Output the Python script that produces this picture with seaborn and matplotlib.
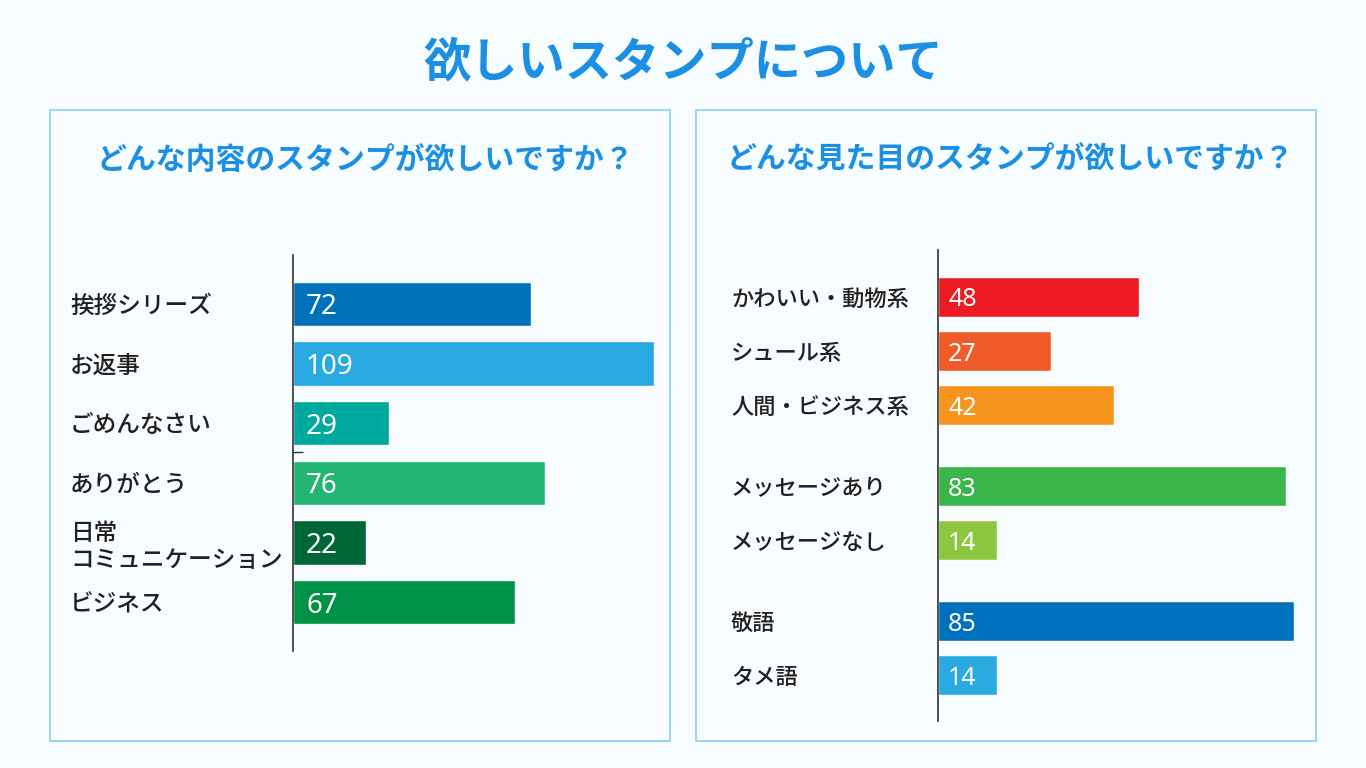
import pandas as pd
import matplotlib
matplotlib.use('Agg')
import matplotlib.pyplot as plt
from matplotlib.patches import Rectangle
import seaborn as sns

# どんな内容のスタンプが欲しいですか？
content_labels = ['挨拶シリーズ', 'お返事', 'ごめんなさい', 'ありがとう', '日常\nコミュニケーション', 'ビジネス']
content_values = [72, 109, 29, 76, 22, 67]
content_colors = ['#0072bc', '#29a9e1', '#00a99d', '#22b573', '#006837', '#009245']

# どんな見た目のスタンプが欲しいですか？
look_labels = ['かわいい・動物系', 'シュール系', '人間・ビジネス系', 'メッセージあり', 'メッセージなし', '敬語', 'タメ語']
look_values = [48, 27, 42, 83, 14, 85, 14]
look_groups = ['キャラ', 'キャラ', 'キャラ', 'メッセージ', 'メッセージ', '言葉遣い', '言葉遣い']
look_colors = ['#ed1c24', '#f15a29', '#f7941d', '#39b54a', '#8dc63f', '#0071bc', '#29abe2']

BG = '#f7fcff'
BLUE = '#1b8fe3'
FRAME = '#95d1f5'
TEXT = '#231f20'

sns.set_style('white')
plt.rcParams['font.family'] = ['Noto Sans CJK JP', 'DejaVu Sans']

W, H = 1366, 768
fig = plt.figure(figsize=(W / 100, H / 100), dpi=100)
fig.patch.set_facecolor(BG)


def px_box(x0, y0, x1, y1):
    # pixel box (top-left origin) -> figure fraction [left, bottom, width, height]
    return [x0 / W, 1 - y1 / H, (x1 - x0) / W, (y1 - y0) / H]


# panel frames
for x0, x1 in [(50, 670), (696, 1316)]:
    l, b, w, h = px_box(x0, 110, x1, 741)
    fig.patches.append(Rectangle((l, b), w, h, transform=fig.transFigure,
                                 fill=False, edgecolor=FRAME, lw=1.3))

fig.text(683 / W, 1 - 62 / H, '欲しいスタンプについて', ha='center', va='center',
         fontsize=34, fontweight='bold', color=BLUE)
fig.text(365 / W, 1 - 160 / H, 'どんな内容のスタンプが欲しいですか？', ha='center', va='center',
         fontsize=21.5, fontweight='bold', color=BLUE)
fig.text(1010 / W, 1 - 160 / H, 'どんな見た目のスタンプが欲しいですか？', ha='center', va='center',
         fontsize=21.5, fontweight='bold', color=BLUE)


def style_axis(ax, labels, ticks, pad, label_size):
    ax.set_facecolor('none')
    for side in ['top', 'right', 'bottom']:
        ax.spines[side].set_visible(False)
    ax.spines['left'].set_color('#333333')
    ax.spines['left'].set_linewidth(1.2)
    ax.set_xticks([])
    ax.set_xlabel('')
    ax.set_ylabel('')
    ax.set_yticks(ticks)
    ax.set_yticklabels(labels, ha='left', fontsize=label_size, color=TEXT, fontweight='medium')
    ax.tick_params(axis='y', which='major', length=0, pad=pad)


# left chart
df1 = pd.DataFrame({'label': content_labels, 'value': content_values})
ax1 = fig.add_axes(px_box(293, 255, 654, 651))
sns.barplot(data=df1, x='value', y='label', hue='label', orient='h',
            palette=dict(zip(content_labels, content_colors)), saturation=1,
            width=0.74, legend=False, ax=ax1)
ax1.set_xlim(0, 109)
ax1.set_ylim(5.82, -0.82)
style_axis(ax1, content_labels, range(len(content_labels)), 223 * 0.72, 17)
ax1.set_yticks([2.48], minor=True)
ax1.tick_params(axis='y', which='minor', left=True, direction='in', length=7, width=1, color='#333333')
for i, v in enumerate(content_values):
    ax1.annotate(str(v), xy=(0, i), xytext=(13 * 0.72, 0), textcoords='offset points',
                 ha='left', va='center_baseline', color='white', fontsize=20, family='Noto Sans')

# right chart: groups separated by a half-bar gap
pos = []
p = 0.0
for i, g in enumerate(look_groups):
    if i > 0:
        p += 1.5 if g != look_groups[i - 1] else 1.0
    pos.append(p)
df2 = pd.DataFrame({'label': look_labels, 'value': look_values, 'pos': pos})
ax2 = fig.add_axes(px_box(938, 250, 1294, 721))
sns.barplot(data=df2, x='value', y='pos', hue='label', orient='h', native_scale=True,
            palette=dict(zip(look_labels, look_colors)), saturation=1, dodge=False,
            width=0.74, legend=False, ax=ax2)
ax2.set_xlim(0, 85)
ax2.set_ylim(7.85, -0.87)
style_axis(ax2, look_labels, pos, 207 * 0.72, 16)
for y, v in zip(pos, look_values):
    ax2.annotate(str(v), xy=(0, y), xytext=(10 * 0.72, 0), textcoords='offset points',
                 ha='left', va='center_baseline', color='white', fontsize=18, family='Noto Sans')

fig.savefig('out.png', dpi=100, facecolor=BG)
